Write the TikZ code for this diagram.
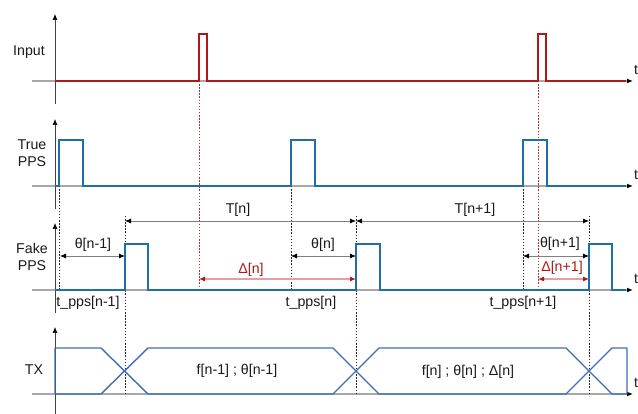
\documentclass[tikz,border=0pt]{standalone}
\usepackage{fontspec}
\setmainfont{Liberation Sans}
\usetikzlibrary{arrows.meta}
\definecolor{sigred}{HTML}{B01818}
\definecolor{sigblue}{HTML}{1F6EA8}
\definecolor{txblue}{HTML}{3F6DB5}
\definecolor{axisgray}{HTML}{A8A8A8}
\definecolor{dimred}{HTML}{E2A0A0}
\definecolor{dimgray}{HTML}{808080}
\tikzset{
  timeaxis/.style={draw=axisgray, line width=1.3pt, -{Latex[length=6pt,width=5pt,color=black]}},
  vaxis/.style={draw=black!75, line width=0.7pt, -{Latex[length=6pt,width=5pt,color=black]}},
  redsig/.style={draw=sigred, line width=1.8pt},
  ppssig/.style={draw=sigblue, line width=1.8pt},
  txsig/.style={draw=txblue, line width=1.4pt, line join=round},
  guide/.style={draw=black!85, line width=0.8pt, dash pattern=on 1.5pt off 1.6pt},
  redguide/.style={draw=sigred!90, line width=0.8pt, dash pattern=on 1.5pt off 1.6pt},
  dimline/.style={draw=dimgray, line width=0.8pt,
    {Latex[length=6pt,width=5pt,color=black]}-{Latex[length=6pt,width=5pt,color=black]}},
  deltaline/.style={draw=dimred, line width=1.1pt,
    {Latex[length=6pt,width=5pt,color=sigred]}-{Latex[length=6pt,width=5pt,color=sigred]}},
  lbl/.style={inner sep=0pt, text=black!90},
  redlbl/.style={inner sep=0pt, text=sigred},
}
\begin{document}
\begin{tikzpicture}[x=1pt, y=-1pt, font=\fontsize{14.2}{17}\selectfont]
\useasboundingbox (0,0) rectangle (638,414);

% time axes with their vertical axes and "t" labels
\foreach \b/\n in {81/in,186/tp,290/fp,394/tx} {
  \draw[timeaxis] (32,\b) -- (633,\b);
  \draw[vaxis] (55,\b+23) -- (55,\b-67);
  \node[lbl] (t-\n) at (636,\b-11) {t};
}

% row labels
\node[lbl] (lab-in) at (29,52) {Input};
\node[lbl, align=center] (lab-tp) at (32,153) {True\\PPS};
\node[lbl, align=center] (lab-fp) at (32,257) {Fake\\PPS};
\node[lbl] (lab-tx) at (34,370) {TX};

% guide lines (drawn below the signals)
\foreach \x in {59,291,523} \draw[guide] (\x,186) -- (\x,290);
\foreach \x in {125,356,589} \draw[guide] (\x,216) -- (\x,394);
\foreach \x in {199,538} \draw[redguide] (\x,81) -- (\x,290);

% input signal
\draw[redsig] (55,81) -- (199,81) -- (199,34) -- (207,34) -- (207,81)
  -- (538,81) -- (538,34) -- (546,34) -- (546,81) -- (626,81);

% true PPS
\draw[ppssig] (55,186) -- (59,186) -- (59,140) -- (83,140) -- (83,186)
  -- (291,186) -- (291,140) -- (315,140) -- (315,186)
  -- (523,186) -- (523,140) -- (547,140) -- (547,186) -- (626,186);

% fake PPS
\draw[ppssig] (55,290) -- (125,290) -- (125,244) -- (148,244) -- (148,290)
  -- (356,290) -- (356,244) -- (380,244) -- (380,290)
  -- (589,290) -- (589,244) -- (612,244) -- (612,290) -- (626,290);

% TX data eye
\draw[txsig] (55,394) -- (55,348) -- (101,348) -- (148,394) -- (333,394) -- (379,348)
  -- (566,348) -- (612,394) -- (627,394) -- (627,348) -- (612,348) -- (566,394)
  -- (379,394) -- (333,348) -- (148,348) -- (101,394) -- cycle;
\node[lbl] (tx-a) at (237,371) {f[n-1] ; θ[n-1]};
\node[lbl] (tx-b) at (468,372) {f[n] ; θ[n] ; Δ[n]};

% periods
\coordinate (p0) at (125,221);
\coordinate (p1) at (356,221);
\coordinate (p2) at (589,221);
\draw[dimline] (p0) -- (p1);
\draw[dimline] (p1) -- (p2);
\node[lbl] (T-n) at (238,210) {T[n]};
\node[lbl] (T-n1) at (475,210) {T[n+1]};

% phase offsets
\coordinate (a0) at (60,256);  \coordinate (b0) at (125,256);
\coordinate (a1) at (291,256); \coordinate (b1) at (356,256);
\coordinate (a2) at (523,256); \coordinate (b2) at (589,256);
\draw[dimline] (a0) -- (b0);
\draw[dimline] (a1) -- (b1);
\draw[dimline] (a2) -- (b2);
\node[lbl] (th-0) at (93,245) {θ[n-1]};
\node[lbl] (th-1) at (323,245) {θ[n]};
\node[lbl] (th-2) at (560,244) {θ[n+1]};

% input-to-PPS delays
\coordinate (d1a) at (199,279); \coordinate (d1b) at (356,279);
\coordinate (d2a) at (538,279); \coordinate (d2b) at (589,279);
\draw[deltaline] (d1a) -- (d1b);
\draw[deltaline] (d2a) -- (d2b);
\node[redlbl] (de-1) at (251,270) {Δ[n]};
\node[redlbl] (de-2) at (562,268) {Δ[n+1]};

% PPS time stamps
\node[lbl] (ts-0) at (88,303) {t\_pps[n-1]};
\node[lbl] (ts-1) at (311,303) {t\_pps[n]};
\node[lbl] (ts-2) at (523,303) {t\_pps[n+1]};
\end{tikzpicture}
\end{document}
